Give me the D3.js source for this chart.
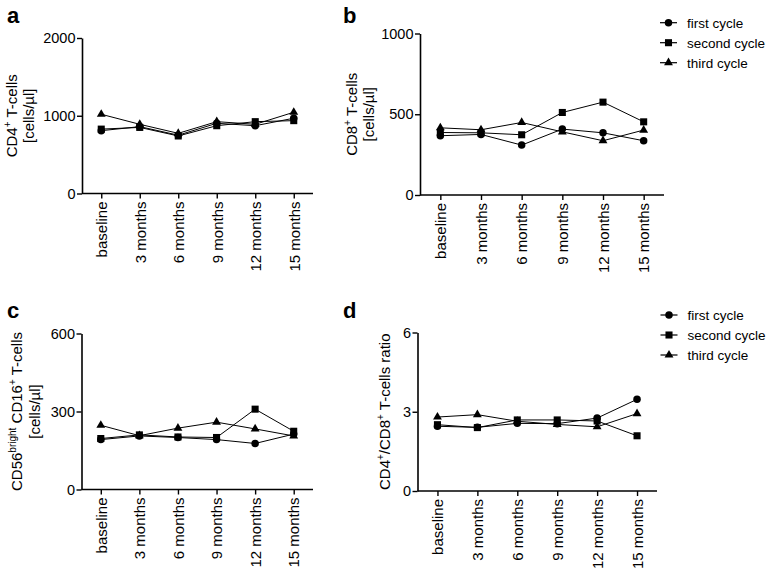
<!DOCTYPE html>
<html>
<head>
<meta charset="utf-8">
<script src="https://cdn.jsdelivr.net/npm/d3@7"></script>
<style>
  body { margin: 0; background: #fff; }
  svg { display: block; font-family: "Liberation Sans", Arial, sans-serif; }
</style>
</head>
<body>
<svg id="chart" width="767" height="572"></svg>
<script>
// ---------- data ----------
const categories = ["baseline", "3 months", "6 months", "9 months", "12 months", "15 months"];
const seriesNames = ["first cycle", "second cycle", "third cycle"];

const cd4First  = [808, 860, 750, 903, 872, 968];
const cd4Second = [828, 850, 740, 872, 924, 937];
const cd4Third  = [1019, 890, 774, 924, 890, 1045];

const cd8First  = [367, 375, 309, 408, 385, 336];
const cd8Second = [387, 385, 373, 511, 575, 453];
const cd8Third  = [416, 404, 449, 391, 336, 402];

const cd56First  = [192, 206, 200, 192, 177, 213];
const cd56Second = [196, 210, 202, 200, 309, 224];
const cd56Third  = [247, 207, 236, 259, 233, 206];

const ratioFirst  = [2.45, 2.41, 2.56, 2.55, 2.76, 3.47];
const ratioSecond = [2.51, 2.40, 2.69, 2.69, 2.65, 2.09];
const ratioThird  = [2.80, 2.89, 2.64, 2.52, 2.43, 2.93];

const ticksA = [0, 1000, 2000];
const ticksB = [0, 500, 1000];
const ticksC = [0, 300, 600];
const ticksD = [0, 3, 6];

// ---------- layout ----------
const svg = d3.select("#chart");
const symbols = [d3.symbolCircle, d3.symbolSquare, d3.symbolTriangle];
const symSizes = [44, 50, 34];

const panels = [
  { letter: "a", lx: 7, ly: 23, x0: 82, x1: 313, yTop: 38, yBot: 193.5, domain: [0, 2000], ticks: ticksA,
    data: [cd4First, cd4Second, cd4Third],
    title: [[["CD4", false], ["+", true], [" T-cells", false]], [["[cells/µl]", false]]], tx: [17, 34] },
  { letter: "b", lx: 343, ly: 23, x0: 420, x1: 664, yTop: 33.5, yBot: 195, domain: [0, 1000], ticks: ticksB,
    data: [cd8First, cd8Second, cd8Third],
    title: [[["CD8", false], ["+", true], [" T-cells", false]], [["[cells/µl]", false]]], tx: [357, 374],
    legend: { x: 660, y: 22.7 } },
  { letter: "c", lx: 7, ly: 318, x0: 81.5, x1: 313, yTop: 333.5, yBot: 489.5, domain: [0, 600], ticks: ticksC,
    data: [cd56First, cd56Second, cd56Third],
    title: [[["CD56", false], ["bright", true], [" CD16", false], ["+", true], [" T-cells", false]], [["[cells/µl]", false]]], tx: [22, 39.5] },
  { letter: "d", lx: 343, ly: 318, x0: 417.5, x1: 657, yTop: 332.5, yBot: 491, domain: [0, 6], ticks: ticksD,
    data: [ratioFirst, ratioSecond, ratioThird],
    title: [[["CD4", false], ["+", true], ["/CD8", false], ["+", true], [" T-cells ratio", false]]], tx: [390],
    legend: { x: 660.5, y: 315 } }
];

panels.forEach(p => {
  const g = svg.append("g");
  const x = d3.scalePoint().domain(categories).range([p.x0, p.x1]).padding(0.5);
  const y = d3.scaleLinear().domain(p.domain).range([p.yBot, p.yTop]);

  // panel letter
  svg.append("text").attr("x", p.lx).attr("y", p.ly)
    .attr("font-size", 22).attr("font-weight", "bold").text(p.letter);

  // y axis
  const yAxis = g.append("g").attr("transform", `translate(${p.x0},0)`)
    .call(d3.axisLeft(y).tickValues(p.ticks).tickFormat(d3.format("d"))
      .tickSize(5).tickPadding(1.5).tickSizeOuter(0));
  yAxis.attr("font-size", 14.5).attr("font-family", "Liberation Sans, Arial, sans-serif");
  yAxis.select(".domain").attr("stroke-width", 1.6);
  yAxis.selectAll(".tick line").attr("stroke-width", 1.4);
  yAxis.selectAll(".tick text").attr("fill", "#000");

  // x axis
  const xAxis = g.append("g").attr("transform", `translate(0,${p.yBot})`)
    .call(d3.axisBottom(x).tickSize(5).tickSizeOuter(0));
  xAxis.attr("font-size", 15).attr("font-family", "Liberation Sans, Arial, sans-serif");
  xAxis.select(".domain").attr("stroke-width", 1.6)
    .attr("d", `M${p.x0},0H${p.x1}`);
  xAxis.selectAll(".tick line").attr("stroke-width", 1.4);
  xAxis.selectAll(".tick text")
    .attr("fill", "#000")
    .attr("text-anchor", "end")
    .attr("transform", "rotate(-90)")
    .attr("x", -8).attr("y", 0).attr("dy", "0.35em");

  // y title
  const cy = (p.yTop + p.yBot) / 2;
  p.title.forEach((line, i) => {
    const t = svg.append("text")
      .attr("transform", `translate(${p.tx[i]},${cy}) rotate(-90)`)
      .attr("text-anchor", "middle").attr("font-size", 15);
    let shifted = false;
    line.forEach(([str, sup]) => {
      const ts = t.append("tspan").text(str);
      if (sup && !shifted) { ts.attr("font-size", 10).attr("dy", -6); shifted = true; }
      else if (!sup && shifted) { ts.attr("dy", 6); shifted = false; }
      else if (sup) { ts.attr("font-size", 10); }
    });
  });

  // lines
  const line = d3.line().x((d, i) => x(categories[i])).y(d => y(d));
  p.data.forEach(vals => {
    g.append("path").attr("d", line(vals)).attr("fill", "none")
      .attr("stroke", "#000").attr("stroke-width", 1);
  });
  // markers
  p.data.forEach((vals, s) => {
    g.selectAll(null).data(vals).enter().append("path")
      .attr("d", d3.symbol().type(symbols[s]).size(symSizes[s]))
      .attr("transform", (d, i) => `translate(${x(categories[i])},${y(d)})`)
      .attr("fill", "#000");
  });

  // legend
  if (p.legend) {
    seriesNames.forEach((name, s) => {
      const ly = p.legend.y + s * 20;
      svg.append("line").attr("x1", p.legend.x).attr("x2", p.legend.x + 17)
        .attr("y1", ly).attr("y2", ly).attr("stroke", "#000").attr("stroke-width", 1.2);
      svg.append("path").attr("d", d3.symbol().type(symbols[s]).size(symSizes[s])())
        .attr("transform", `translate(${p.legend.x + 8.5},${ly})`).attr("fill", "#000");
      svg.append("text").attr("x", p.legend.x + 27).attr("y", ly + 5)
        .attr("font-size", 13.5).text(name);
    });
  }
});
</script>
</body>
</html>
